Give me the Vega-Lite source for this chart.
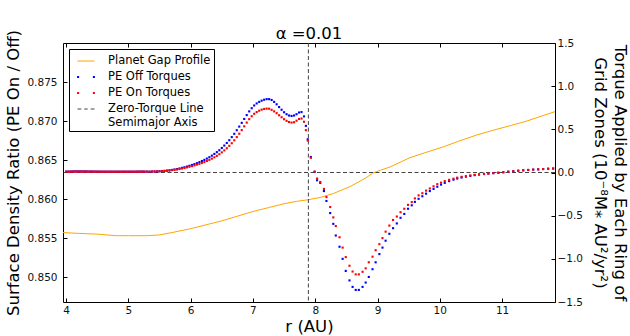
{
  "$schema": "https://vega.github.io/schema/vega-lite/v6.json",
  "width": 492,
  "height": 259,
  "autosize": "none",
  "padding": {"left": 63, "top": 43, "right": 75, "bottom": 34},
  "background": "white",
  "title": {"text": "α =0.01", "font": "DejaVu Sans", "fontSize": 16.5, "fontWeight": "normal", "color": "#000", "offset": 4, "dy": 17, "anchor": "middle"},
  "config": {
    "font": "DejaVu Sans",
    "view": {"stroke": "#000", "strokeWidth": 1},
    "axis": {"grid": false, "domain": false, "tickColor": "#000", "tickSize": -4, "labelFont": "DejaVu Sans", "labelFontSize": 10.5, "labelColor": "#111", "titleFont": "DejaVu Sans", "titleFontSize": 16.5, "titleFontWeight": "normal", "titleColor": "#000"}
  },
  "datasets": {
    "gap": [
      {"r": 3.95, "ratio": 0.8557}, {"r": 4.2, "ratio": 0.8556}, {"r": 4.5, "ratio": 0.8555}, {"r": 4.8, "ratio": 0.8553},
      {"r": 5.0, "ratio": 0.8553}, {"r": 5.3, "ratio": 0.8553}, {"r": 5.5, "ratio": 0.8554}, {"r": 5.7, "ratio": 0.8557},
      {"r": 6.0, "ratio": 0.8562}, {"r": 6.3, "ratio": 0.8568}, {"r": 6.5, "ratio": 0.8572}, {"r": 6.75, "ratio": 0.8578},
      {"r": 7.0, "ratio": 0.8584}, {"r": 7.25, "ratio": 0.8589}, {"r": 7.5, "ratio": 0.8594}, {"r": 7.7, "ratio": 0.8597},
      {"r": 7.88, "ratio": 0.8599}, {"r": 8.08, "ratio": 0.8602}, {"r": 8.29, "ratio": 0.8607}, {"r": 8.56, "ratio": 0.8616},
      {"r": 8.7, "ratio": 0.8622}, {"r": 8.83, "ratio": 0.8628}, {"r": 8.92, "ratio": 0.8633}, {"r": 9.05, "ratio": 0.8637},
      {"r": 9.2, "ratio": 0.8641}, {"r": 9.36, "ratio": 0.8647}, {"r": 9.52, "ratio": 0.8653}, {"r": 9.75, "ratio": 0.8659},
      {"r": 10.06, "ratio": 0.8667}, {"r": 10.3, "ratio": 0.8674}, {"r": 10.59, "ratio": 0.8682}, {"r": 10.85, "ratio": 0.8688},
      {"r": 11.13, "ratio": 0.8694}, {"r": 11.4, "ratio": 0.8700}, {"r": 11.66, "ratio": 0.8707}, {"r": 11.85, "ratio": 0.8712}
    ],
    "torque": [
      {"r": 4.00, "off": 0.010, "on": 0.009}, {"r": 4.03, "off": 0.010, "on": 0.009}, {"r": 4.06, "off": 0.011, "on": 0.009},
      {"r": 4.09, "off": 0.012, "on": 0.010}, {"r": 4.12, "off": 0.013, "on": 0.010}, {"r": 4.15, "off": 0.013, "on": 0.010},
      {"r": 4.18, "off": 0.013, "on": 0.010}, {"r": 4.21, "off": 0.013, "on": 0.010}, {"r": 4.24, "off": 0.012, "on": 0.010},
      {"r": 4.27, "off": 0.012, "on": 0.010}, {"r": 4.30, "off": 0.012, "on": 0.010}, {"r": 4.33, "off": 0.012, "on": 0.010},
      {"r": 4.36, "off": 0.011, "on": 0.010}, {"r": 4.39, "off": 0.011, "on": 0.010}, {"r": 4.42, "off": 0.011, "on": 0.010},
      {"r": 4.45, "off": 0.010, "on": 0.010}, {"r": 4.48, "off": 0.010, "on": 0.010}, {"r": 4.51, "off": 0.010, "on": 0.009},
      {"r": 4.54, "off": 0.010, "on": 0.009}, {"r": 4.57, "off": 0.009, "on": 0.009}, {"r": 4.60, "off": 0.009, "on": 0.009},
      {"r": 4.63, "off": 0.009, "on": 0.009}, {"r": 4.66, "off": 0.009, "on": 0.009}, {"r": 4.69, "off": 0.009, "on": 0.009},
      {"r": 4.72, "off": 0.009, "on": 0.009}, {"r": 4.75, "off": 0.009, "on": 0.009}, {"r": 4.78, "off": 0.009, "on": 0.009},
      {"r": 4.81, "off": 0.009, "on": 0.009}, {"r": 4.84, "off": 0.009, "on": 0.009}, {"r": 4.87, "off": 0.009, "on": 0.009},
      {"r": 4.90, "off": 0.009, "on": 0.009}, {"r": 4.93, "off": 0.009, "on": 0.009}, {"r": 4.96, "off": 0.009, "on": 0.009},
      {"r": 4.99, "off": 0.009, "on": 0.009}, {"r": 5.02, "off": 0.009, "on": 0.009}, {"r": 5.05, "off": 0.009, "on": 0.009},
      {"r": 5.08, "off": 0.009, "on": 0.009}, {"r": 5.11, "off": 0.009, "on": 0.009}, {"r": 5.14, "off": 0.010, "on": 0.009},
      {"r": 5.17, "off": 0.010, "on": 0.009}, {"r": 5.20, "off": 0.010, "on": 0.010}, {"r": 5.23, "off": 0.010, "on": 0.010},
      {"r": 5.26, "off": 0.010, "on": 0.010},
      {"r": 5.30, "off": 0.010, "on": 0.010}, {"r": 5.34, "off": 0.010, "on": 0.010}, {"r": 5.38, "off": 0.011, "on": 0.011},
      {"r": 5.42, "off": 0.012, "on": 0.012}, {"r": 5.46, "off": 0.013, "on": 0.013}, {"r": 5.50, "off": 0.015, "on": 0.014},
      {"r": 5.54, "off": 0.017, "on": 0.016}, {"r": 5.58, "off": 0.019, "on": 0.018}, {"r": 5.62, "off": 0.022, "on": 0.020},
      {"r": 5.66, "off": 0.026, "on": 0.023}, {"r": 5.70, "off": 0.030, "on": 0.027}, {"r": 5.74, "off": 0.035, "on": 0.031},
      {"r": 5.78, "off": 0.040, "on": 0.035}, {"r": 5.82, "off": 0.047, "on": 0.040}, {"r": 5.86, "off": 0.054, "on": 0.046},
      {"r": 5.90, "off": 0.061, "on": 0.052}, {"r": 5.94, "off": 0.069, "on": 0.059}, {"r": 5.98, "off": 0.078, "on": 0.066},
      {"r": 6.02, "off": 0.087, "on": 0.074}, {"r": 6.06, "off": 0.097, "on": 0.082}, {"r": 6.10, "off": 0.108, "on": 0.091},
      {"r": 6.14, "off": 0.120, "on": 0.100}, {"r": 6.18, "off": 0.133, "on": 0.110}, {"r": 6.22, "off": 0.146, "on": 0.121},
      {"r": 6.26, "off": 0.161, "on": 0.133}, {"r": 6.30, "off": 0.177, "on": 0.146}, {"r": 6.34, "off": 0.195, "on": 0.160},
      {"r": 6.38, "off": 0.215, "on": 0.176}, {"r": 6.42, "off": 0.236, "on": 0.193}, {"r": 6.46, "off": 0.258, "on": 0.212},
      {"r": 6.50, "off": 0.284, "on": 0.233}, {"r": 6.54, "off": 0.312, "on": 0.256}, {"r": 6.58, "off": 0.342, "on": 0.281},
      {"r": 6.62, "off": 0.374, "on": 0.309}, {"r": 6.66, "off": 0.410, "on": 0.339}, {"r": 6.70, "off": 0.448, "on": 0.373},
      {"r": 6.74, "off": 0.490, "on": 0.410}, {"r": 6.78, "off": 0.532, "on": 0.449}, {"r": 6.82, "off": 0.575, "on": 0.491},
      {"r": 6.86, "off": 0.620, "on": 0.535}, {"r": 6.90, "off": 0.665, "on": 0.578}, {"r": 6.94, "off": 0.708, "on": 0.618},
      {"r": 6.98, "off": 0.745, "on": 0.652}, {"r": 7.02, "off": 0.776, "on": 0.680}, {"r": 7.06, "off": 0.800, "on": 0.700},
      {"r": 7.10, "off": 0.818, "on": 0.716}, {"r": 7.14, "off": 0.832, "on": 0.728}, {"r": 7.18, "off": 0.843, "on": 0.736},
      {"r": 7.22, "off": 0.850, "on": 0.740}, {"r": 7.26, "off": 0.850, "on": 0.739}, {"r": 7.30, "off": 0.840, "on": 0.726},
      {"r": 7.34, "off": 0.818, "on": 0.708}, {"r": 7.38, "off": 0.790, "on": 0.687}, {"r": 7.42, "off": 0.758, "on": 0.663},
      {"r": 7.46, "off": 0.727, "on": 0.640}, {"r": 7.50, "off": 0.698, "on": 0.617}, {"r": 7.54, "off": 0.675, "on": 0.598},
      {"r": 7.58, "off": 0.660, "on": 0.585}, {"r": 7.62, "off": 0.655, "on": 0.578}, {"r": 7.66, "off": 0.660, "on": 0.582},
      {"r": 7.70, "off": 0.675, "on": 0.600}, {"r": 7.74, "off": 0.695, "on": 0.620}, {"r": 7.78, "off": 0.700, "on": 0.625},
      {"r": 7.82, "off": 0.650, "on": 0.588}, {"r": 7.85, "off": 0.540, "on": 0.490}, {"r": 7.88, "off": 0.385, "on": 0.370},
      {"r": 7.93, "off": 0.180, "on": 0.170}, {"r": 7.99, "off": 0.008, "on": 0.010},
      {"r": 8.03, "off": -0.090, "on": -0.070}, {"r": 8.08, "off": -0.120, "on": -0.110}, {"r": 8.14, "off": -0.215, "on": -0.190},
      {"r": 8.18, "off": -0.330, "on": -0.285}, {"r": 8.24, "off": -0.470, "on": -0.400}, {"r": 8.29, "off": -0.595, "on": -0.520},
      {"r": 8.33, "off": -0.730, "on": -0.620}, {"r": 8.39, "off": -0.860, "on": -0.750}, {"r": 8.44, "off": -1.000, "on": -0.870},
      {"r": 8.49, "off": -1.140, "on": -0.980}, {"r": 8.55, "off": -1.250, "on": -1.080}, {"r": 8.60, "off": -1.325, "on": -1.147},
      {"r": 8.65, "off": -1.360, "on": -1.180}, {"r": 8.70, "off": -1.360, "on": -1.180}, {"r": 8.76, "off": -1.325, "on": -1.150},
      {"r": 8.81, "off": -1.275, "on": -1.110}, {"r": 8.86, "off": -1.210, "on": -1.040}, {"r": 8.92, "off": -1.120, "on": -0.975},
      {"r": 8.97, "off": -1.040, "on": -0.900}, {"r": 9.03, "off": -0.945, "on": -0.830}, {"r": 9.08, "off": -0.870, "on": -0.760},
      {"r": 9.13, "off": -0.790, "on": -0.685}, {"r": 9.19, "off": -0.710, "on": -0.615}, {"r": 9.25, "off": -0.645, "on": -0.550},
      {"r": 9.31, "off": -0.590, "on": -0.510}, {"r": 9.37, "off": -0.525, "on": -0.460}, {"r": 9.43, "off": -0.480, "on": -0.420},
      {"r": 9.49, "off": -0.420, "on": -0.375}, {"r": 9.55, "off": -0.380, "on": -0.343}, {"r": 9.60, "off": -0.340, "on": -0.300},
      {"r": 9.66, "off": -0.305, "on": -0.265}, {"r": 9.72, "off": -0.275, "on": -0.240}, {"r": 9.78, "off": -0.245, "on": -0.210},
      {"r": 9.84, "off": -0.215, "on": -0.185}, {"r": 9.90, "off": -0.190, "on": -0.160}, {"r": 9.96, "off": -0.165, "on": -0.135},
      {"r": 10.02, "off": -0.140, "on": -0.118}, {"r": 10.08, "off": -0.120, "on": -0.100}, {"r": 10.15, "off": -0.100, "on": -0.085},
      {"r": 10.22, "off": -0.083, "on": -0.072}, {"r": 10.28, "off": -0.070, "on": -0.060}, {"r": 10.35, "off": -0.058, "on": -0.050},
      {"r": 10.42, "off": -0.048, "on": -0.042}, {"r": 10.49, "off": -0.039, "on": -0.034}, {"r": 10.56, "off": -0.031, "on": -0.027},
      {"r": 10.63, "off": -0.024, "on": -0.021}, {"r": 10.71, "off": -0.018, "on": -0.016}, {"r": 10.78, "off": -0.013, "on": -0.012},
      {"r": 10.86, "off": -0.008, "on": -0.007}, {"r": 10.94, "off": -0.003, "on": -0.003}, {"r": 11.02, "off": 0.003, "on": 0.003},
      {"r": 11.10, "off": 0.009, "on": 0.010}, {"r": 11.18, "off": 0.015, "on": 0.016}, {"r": 11.26, "off": 0.020, "on": 0.021},
      {"r": 11.34, "off": 0.025, "on": 0.026}, {"r": 11.42, "off": 0.029, "on": 0.030}, {"r": 11.50, "off": 0.033, "on": 0.034},
      {"r": 11.58, "off": 0.036, "on": 0.037}, {"r": 11.66, "off": 0.040, "on": 0.040}, {"r": 11.74, "off": 0.043, "on": 0.044},
      {"r": 11.82, "off": 0.046, "on": 0.046}
    ]
  },
  "resolve": {"scale": {"y": "independent"}, "axis": {"y": "independent"}},
  "layer": [
    {
      "data": {"name": "gap"},
      "mark": {"type": "line", "color": "#ffa500", "strokeWidth": 1},
      "encoding": {
        "x": {"field": "r", "type": "quantitative", "scale": {"domain": [3.95, 11.85], "nice": false, "zero": false},
              "axis": {"orient": "bottom", "title": "r (AU)", "values": [4, 5, 6, 7, 8, 9, 10, 11], "format": "d", "labelPadding": 7, "titlePadding": 3}},
        "y": {"field": "ratio", "type": "quantitative", "scale": {"domain": [0.8468, 0.88], "nice": false, "zero": false},
              "axis": {"orient": "left", "title": "Surface Density Ratio (PE On / Off)", "values": [0.85, 0.855, 0.86, 0.865, 0.87, 0.875], "format": ".3f", "labelPadding": 10, "titlePadding": 5}}
      }
    },
    {
      "data": {"values": [{}]},
      "mark": {"type": "rule", "color": "#444", "strokeWidth": 1, "strokeDash": [4, 2.5]},
      "encoding": {
        "y": {"datum": 0, "type": "quantitative", "scale": {"domain": [-1.5, 1.5], "nice": false, "zero": false}, "axis": null}
      }
    },
    {
      "data": {"values": [{}]},
      "mark": {"type": "rule", "color": "#444", "strokeWidth": 1, "strokeDash": [4, 2.5]},
      "encoding": {
        "x": {"datum": 7.89, "type": "quantitative", "axis": {"orient": "top", "labels": false, "title": null, "values": [4, 5, 6, 7, 8, 9, 10, 11]}}
      }
    },
    {
      "data": {"name": "torque"},
      "transform": [{"fold": ["off", "on"], "as": ["s", "t"]}],
      "mark": {"type": "point", "filled": true, "shape": "square", "size": 4.5, "opacity": 1, "strokeWidth": 0},
      "encoding": {
        "x": {"field": "r", "type": "quantitative", "axis": null},
        "y": {"field": "t", "type": "quantitative", "scale": {"domain": [-1.5, 1.5], "nice": false, "zero": false},
              "axis": {"orient": "right", "title": ["Torque Applied by Each Ring of", "Grid Zones (10⁻⁸M⁎ AU²/yr²)"], "values": [-1.5, -1, -0.5, 0, 0.5, 1, 1.5], "format": ".1f", "labelPadding": 6, "titlePadding": 9, "titleLineHeight": 20}},
        "fill": {"field": "s", "type": "nominal",
                 "scale": {"domain": ["gap", "off", "on", "zero"], "range": ["transparent", "#0000ff", "#ff0000", "transparent"]},
                 "legend": {}},
        "order": {"field": "s", "sort": "ascending"}
      }
    },
    {
      "data": {"values": []},
      "mark": {"type": "point", "filled": true, "opacity": 1},
      "encoding": {
        "fill": {"field": "s", "type": "nominal", "legend": {}},
        "stroke": {"field": "s", "type": "nominal",
                   "scale": {"domain": ["gap", "off", "on", "zero"], "range": ["#ffa500", "transparent", "transparent", "#444444"]},
                   "legend": {}},
        "shape": {"field": "s", "type": "nominal",
                  "scale": {"domain": ["gap", "off", "on", "zero"], "range": ["M-1,0H1", "M-1.05,-0.12H-0.81V0.12H-1.05Z M0.81,-0.12H1.05V0.12H0.81Z", "M-1.05,-0.12H-0.81V0.12H-1.05Z M0.81,-0.12H1.05V0.12H0.81Z", "M-1,0H-0.55M-0.2,0H0.2M0.55,0H1"]},
                  "legend": {
                    "orient": "top-left", "offset": 6, "title": null, "padding": 3, "symbolOffset": 5,
                    "strokeColor": "#000", "fillColor": "#fff", "cornerRadius": 0,
                    "labelFont": "DejaVu Sans", "labelFontSize": 11.5, "labelColor": "#000", "labelOffset": 13,
                    "symbolSize": 289, "rowPadding": 1, "symbolStrokeWidth": 1, "symbolOpacity": 1,
                    "labelExpr": "datum.value == 'zero' ? ['Zero-Torque Line', 'Semimajor Axis'] : datum.value == 'gap' ? 'Planet Gap Profile' : datum.value == 'off' ? 'PE Off Torques' : 'PE On Torques'"
                  }}
      }
    }
  ]
}
